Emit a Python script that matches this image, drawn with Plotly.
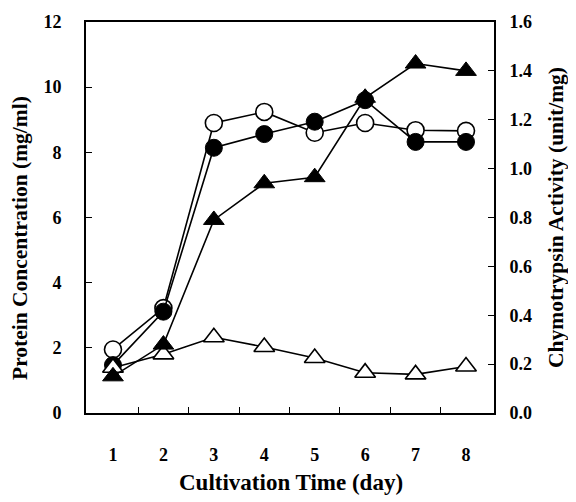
import plotly.graph_objects as go

days = [1, 2, 3, 4, 5, 6, 7, 8]
protein_open = [1.95, 3.22, 8.9, 9.24, 8.6, 8.9, 8.68, 8.66]
protein_filled = [1.47, 3.11, 8.14, 8.56, 8.94, 9.6, 8.32, 8.32]
activity_filled = [0.15, 0.28, 0.79, 0.94, 0.965, 1.29, 1.43, 1.40]
activity_open = [0.185, 0.24, 0.31, 0.27, 0.225, 0.165, 0.158, 0.19]

y_left_ticks = [0, 2, 4, 6, 8, 10, 12]
y_right_ticks = [0.0, 0.2, 0.4, 0.6, 0.8, 1.0, 1.2, 1.4, 1.6]
y_right_labels = ["0.0", "0.2", "0.4", "0.6", "0.8", "1.0", "1.2", "1.4", "1.6"]
x_minor_ticks = [1.5, 2.5, 3.5, 4.5, 5.5, 6.5, 7.5]

x_title = "Cultivation Time (day)"
y_left_title = "Protein Concentration (mg/ml)"
y_right_title = "Chymotrypsin Activity (unit/mg)"

FONT = "Liberation Serif"
# The page body has an 8px default margin, so figure pixels = page pixels - 8.
OFF = 8
W, H = 576, 502
L, T = 86 - OFF, 22 - OFF
PW, PH = 408, 391
R, B = W - L - PW, H - T - PH

line = dict(color="black", width=1.6)

fig = go.Figure()
fig.add_trace(go.Scatter(x=days, y=protein_open, mode="lines+markers", line=line,
                         marker=dict(symbol="circle", size=17, color="white",
                                     line=dict(color="black", width=1.6)),
                         showlegend=False))
fig.add_trace(go.Scatter(x=days, y=protein_filled, mode="lines+markers", line=line,
                         marker=dict(symbol="circle", size=17, color="black",
                                     line=dict(color="black", width=1)),
                         showlegend=False))
fig.add_trace(go.Scatter(x=days, y=activity_open, mode="lines+markers", line=line,
                         yaxis="y2",
                         marker=dict(symbol="triangle-up", size=18, color="white",
                                     line=dict(color="black", width=1.6)),
                         showlegend=False))
fig.add_trace(go.Scatter(x=days, y=activity_filled, mode="lines+markers", line=line,
                         yaxis="y2",
                         marker=dict(symbol="triangle-up", size=18, color="black",
                                     line=dict(color="black", width=1)),
                         showlegend=False))

tickfont = dict(family=FONT, size=18, color="black")


def px_x(page_x):
    return (page_x - OFF - L) / PW


def px_y(page_y):
    return (T + PH - (page_y - OFF)) / PH


annotations = [
    dict(text=f"<b>{x_title}</b>", x=px_x(291), y=px_y(482), xref="paper", yref="paper",
         showarrow=False, xanchor="center", yanchor="middle",
         font=dict(family=FONT, size=23, color="black")),
    dict(text=f"<b>{y_left_title}</b>", x=px_x(20), y=px_y(238), xref="paper", yref="paper",
         showarrow=False, xanchor="center", yanchor="middle", textangle=-90,
         font=dict(family=FONT, size=21.5, color="black")),
    dict(text=f"<b>{y_right_title}</b>", x=px_x(556), y=px_y(218), xref="paper", yref="paper",
         showarrow=False, xanchor="center", yanchor="middle", textangle=-90,
         font=dict(family=FONT, size=21.5, color="black")),
]

fig.update_layout(
    width=W, height=H,
    margin=dict(l=L, r=R, t=T, b=B, autoexpand=False),
    paper_bgcolor="white", plot_bgcolor="white",
    font=dict(family=FONT, color="black"),
    annotations=annotations,
    xaxis=dict(
        range=[0.465, 8.555], tickvals=days, ticktext=[f"<b>{d}</b>" for d in days],
        ticks="", showgrid=False, zeroline=False, automargin=False,
        showline=True, linecolor="black", linewidth=1.8, mirror=True,
        tickfont=tickfont, ticklabelstandoff=24,
        minor=dict(tickvals=x_minor_ticks, ticks="inside", ticklen=6,
                   tickcolor="black", tickwidth=1, showgrid=False),
    ),
    yaxis=dict(
        range=[0, 12], tickvals=y_left_ticks,
        ticktext=[f"<b>{v}</b>" for v in y_left_ticks],
        ticks="inside", ticklen=6, tickcolor="black", tickwidth=1,
        showgrid=False, zeroline=False, automargin=False,
        showline=True, linecolor="black", linewidth=1.8,
        tickfont=tickfont, ticklabelstandoff=19,
    ),
    yaxis2=dict(
        range=[0, 1.6], tickvals=y_right_ticks,
        ticktext=[f"<b>{t}</b>" for t in y_right_labels],
        overlaying="y", side="right",
        ticks="inside", ticklen=6, tickcolor="black", tickwidth=1,
        showgrid=False, zeroline=False, automargin=False,
        showline=True, linecolor="black", linewidth=1.8,
        tickfont=tickfont, ticklabelstandoff=10,
    ),
)

fig.write_html("out.html")
